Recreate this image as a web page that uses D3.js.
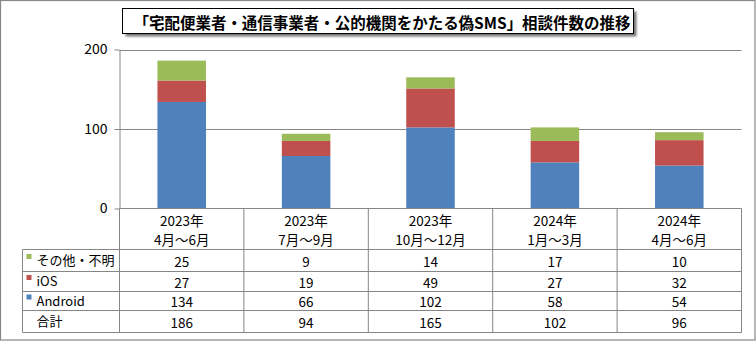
<!DOCTYPE html>
<html><head><meta charset="utf-8">
<script src="https://cdn.jsdelivr.net/npm/d3@7"></script>
<style>
html,body{margin:0;padding:0;background:#fff;}
svg{display:block;font-family:"Noto Sans CJK JP","Noto Sans",sans-serif;}
</style></head>
<body>
<svg id="c" width="756" height="341"></svg>
<script>
const title = "「宅配便業者・通信事業者・公的機関をかたる偽SMS」相談件数の推移";
const yearLabels = ["2023年","2023年","2023年","2024年","2024年"];
const periodLabels = ["4月～6月","7月～9月","10月～12月","1月～3月","4月～6月"];
const seriesNames = ["その他・不明","iOS","Android"];
const otherVals = [25, 9, 14, 17, 10];
const iosVals = [27, 19, 49, 27, 32];
const androidVals = [134, 66, 102, 58, 54];
const totalVals = [186, 94, 165, 102, 96];
const totalLabel = "合計";
const yTicks = [0, 100, 200];
const colors = {"その他・不明":"#9BBB59","iOS":"#C0504D","Android":"#4F81BD"};

const svg = d3.select("#c");
const gridC = "#868686";

// outer frame
svg.append("rect").attr("x",0.5).attr("y",0.5).attr("width",754.5).attr("height",339.5)
  .attr("fill","#fff").attr("stroke",gridC).attr("stroke-width",1.2);

const rows = periodLabels.map((p,i)=>({i, Android:androidVals[i], iOS:iosVals[i], "その他・不明":otherVals[i]}));
const x = d3.scaleBand().domain(d3.range(periodLabels.length)).range([119.5, 741.5]).padding(0);
const y = d3.scaleLinear().domain([0,200]).range([208.5, 49.5]);

// gridlines
svg.append("g").selectAll("line").data(yTicks.filter(t=>t>0)).join("line")
  .attr("x1",119.5).attr("x2",741.5).attr("y1",d=>Math.round(y(d))+0.5).attr("y2",d=>Math.round(y(d))+0.5)
  .attr("stroke",gridC).attr("stroke-width",1);

// y axis
const yAxis = d3.axisLeft(y).tickValues(yTicks).tickSize(5).tickPadding(7).tickSizeOuter(0);
const ga = svg.append("g").attr("transform","translate(119.5,0)").call(yAxis);
ga.select(".domain").attr("stroke",gridC);
ga.selectAll(".tick line").attr("stroke",gridC);
ga.selectAll(".tick text").attr("font-size","14px").attr("fill","#000")
  .attr("font-family","'Noto Sans CJK JP','Noto Sans',sans-serif");

// bars
const stack = d3.stack().keys(["Android","iOS","その他・不明"]);
const series = stack(rows);
const bw = x.bandwidth();
svg.append("g").selectAll("g").data(series).join("g")
  .attr("fill",d=>colors[d.key])
  .selectAll("rect").data(d=>d).join("rect")
  .attr("x",d=>x(d.data.i)+bw*0.305)
  .attr("width",bw*0.39)
  .attr("y",d=>y(d[1]))
  .attr("height",d=>y(d[0])-y(d[1]));

// table
const rowEdges = [249.5, 271.5, 291.5, 310.5, 332.5];
const tbl = svg.append("g").attr("stroke",gridC).attr("stroke-width",1);
tbl.append("line").attr("x1",119.5).attr("x2",741.5).attr("y1",208.5).attr("y2",208.5);
rowEdges.forEach(ry=>{
  tbl.append("line").attr("x1",22.5).attr("x2",741.5).attr("y1",ry).attr("y2",ry);
});
tbl.append("line").attr("x1",22.5).attr("x2",22.5).attr("y1",rowEdges[0]).attr("y2",rowEdges[4]);
d3.range(periodLabels.length+1).forEach(i=>{
  const xx = i<periodLabels.length ? x(i) : x(periodLabels.length-1)+bw;
  tbl.append("line").attr("x1",xx).attr("x2",xx).attr("y1",208.5).attr("y2",rowEdges[4]);
});

const txt = svg.append("g").attr("font-size","13.5px").attr("fill","#000");
periodLabels.forEach((p,i)=>{
  const cx = x(i)+bw/2;
  txt.append("text").attr("x",cx).attr("y",220).attr("text-anchor","middle").attr("dominant-baseline","central").text(yearLabels[i]);
  txt.append("text").attr("x",cx).attr("y",238.5).attr("text-anchor","middle").attr("dominant-baseline","central").text(p);
});
const tableRows = [
  {name:"その他・不明", vals:otherVals, color:colors["その他・不明"]},
  {name:"iOS", vals:iosVals, color:colors["iOS"]},
  {name:"Android", vals:androidVals, color:colors["Android"]},
  {name:totalLabel, vals:totalVals, color:null}
];
tableRows.forEach((r,ri)=>{
  const cy = (rowEdges[ri]+rowEdges[ri+1])/2;
  if (r.color) {
    svg.append("rect").attr("x",26.5).attr("y",cy-6.5).attr("width",5).attr("height",5).attr("fill",r.color);
  }
  txt.append("text").attr("x",36.5).attr("y",cy-1).attr("font-size","13px").attr("dominant-baseline","central").text(r.name);
  r.vals.forEach((v,i)=>{
    txt.append("text").attr("x",x(i)+bw/2).attr("y",cy).attr("text-anchor","middle").attr("dominant-baseline","central").text(v);
  });
});

// title box
const defs = svg.append("defs");
const f = defs.append("filter").attr("id","sh").attr("x","-5%").attr("y","-30%").attr("width","110%").attr("height","160%");
f.append("feGaussianBlur").attr("stdDeviation",1.2);
svg.append("rect").attr("x",125.5).attr("y",11.5).attr("width",511).attr("height",25).attr("fill","#777").attr("filter","url(#sh)");
svg.append("rect").attr("x",122.5).attr("y",8.5).attr("width",511).attr("height",25).attr("fill","#fff").attr("stroke","#000").attr("stroke-width",1);
svg.append("text").attr("x",382).attr("y",21.5).attr("text-anchor","middle").attr("dominant-baseline","central")
  .attr("font-size","15.5px").attr("font-weight","bold").attr("fill","#000")
  .attr("textLength",497).attr("lengthAdjust","spacingAndGlyphs").text(title);
</script>
</body></html>
